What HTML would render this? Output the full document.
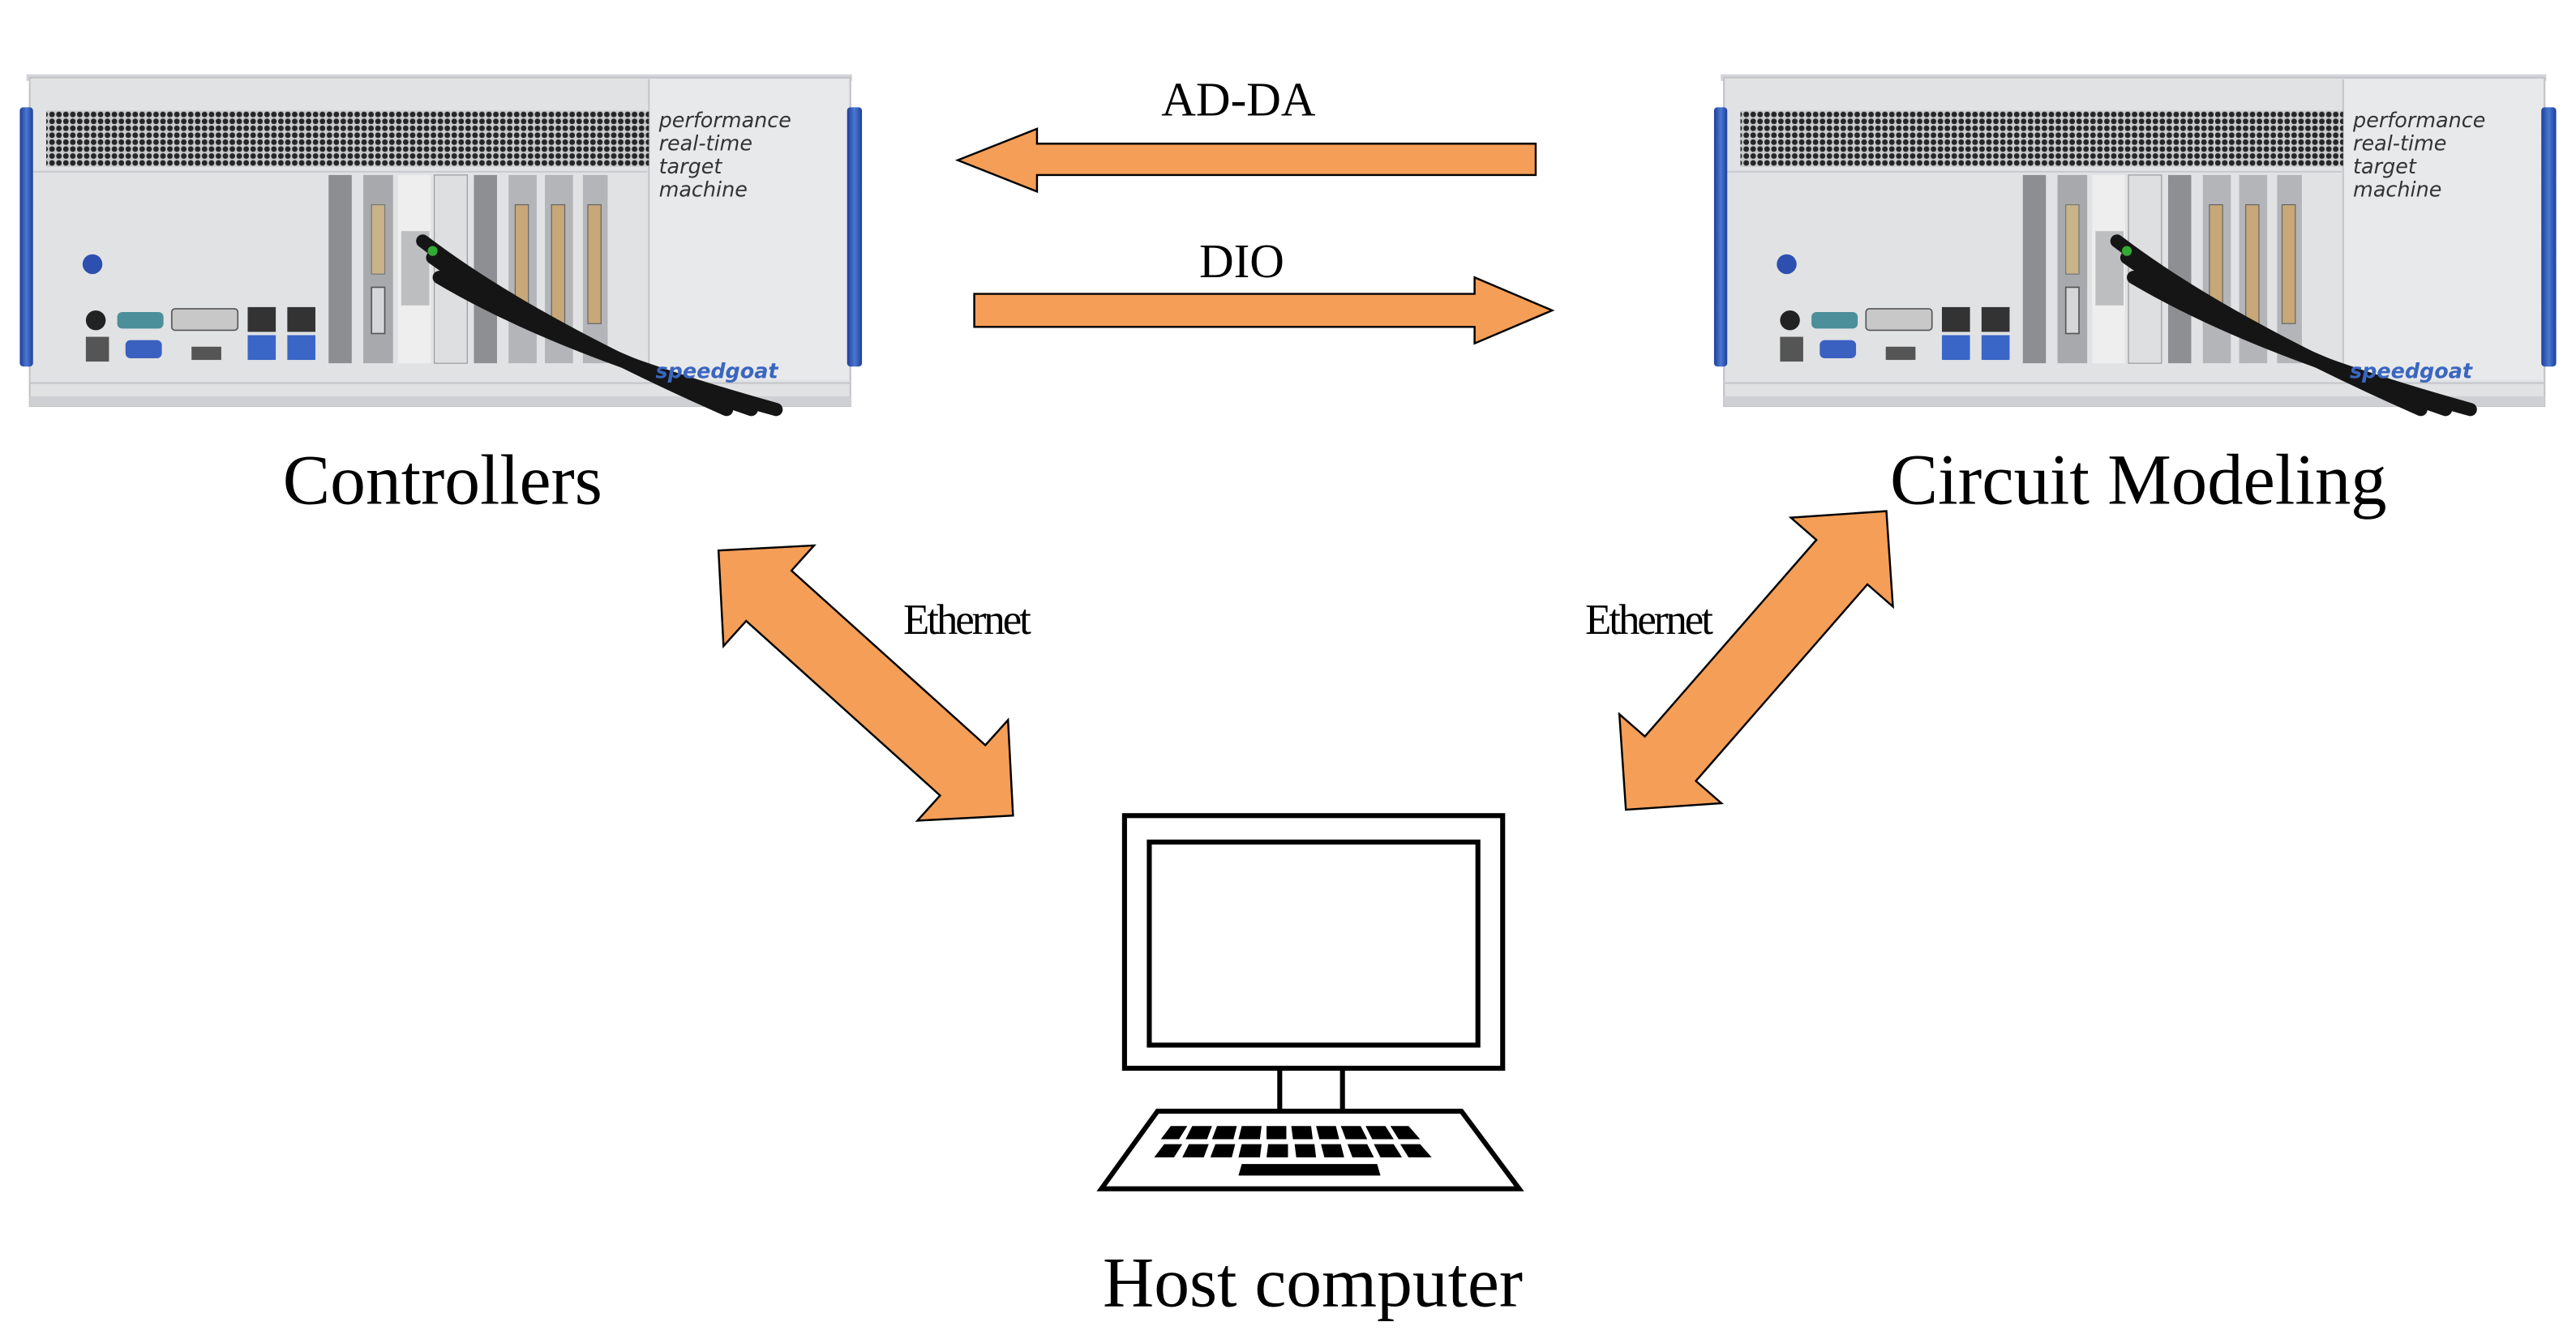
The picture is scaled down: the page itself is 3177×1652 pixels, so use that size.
<!DOCTYPE html>
<html><head><meta charset="utf-8"><style>
html,body{margin:0;padding:0;background:#fff;}
svg{display:block;}
</style></head><body>
<svg width="3177" height="1652" viewBox="0 0 1560 811" preserveAspectRatio="none" xmlns="http://www.w3.org/2000/svg">
<defs>
<pattern id="dots" width="4.2" height="4.2" patternUnits="userSpaceOnUse">
<rect width="4.2" height="4.2" fill="#c9cacc"/>
<circle cx="2.1" cy="2.1" r="1.7" fill="#262628"/>
</pattern>
<linearGradient id="blu" x1="0" x2="1"><stop offset="0" stop-color="#1e3f9a"/><stop offset="0.5" stop-color="#4a78d0"/><stop offset="1" stop-color="#1e3f9a"/></linearGradient>
<g id="machine">
<rect x="16" y="45" width="500" height="4" fill="#d4d5d8"/>
<rect x="18" y="47" width="497" height="199" fill="#e1e2e4" stroke="#c2c3c6" stroke-width="1"/>
<rect x="393" y="48" width="121" height="182" fill="#e8e9eb"/>
<line x1="393" y1="48" x2="393" y2="230" stroke="#c4c5c8" stroke-width="1"/>
<rect x="28" y="67" width="365" height="34" fill="url(#dots)"/>
<line x1="20" y1="104" x2="392" y2="104" stroke="#c9cacd" stroke-width="1"/>
<rect x="12" y="65" width="8" height="157" rx="2" fill="url(#blu)"/>
<rect x="513" y="65" width="9" height="157" rx="2" fill="url(#blu)"/>
<!-- slots -->
<rect x="199" y="106" width="14" height="114" fill="#8d8e91"/>
<rect x="220" y="106" width="18" height="114" fill="#a8a9ac"/>
<rect x="225" y="124" width="8" height="42" fill="#c9b48a" stroke="#777" stroke-width="0.6"/>
<rect x="225" y="174" width="8" height="28" fill="#d5d6d8" stroke="#555" stroke-width="0.8"/>
<rect x="241" y="106" width="20" height="114" fill="#eeeeef"/>
<rect x="243" y="140" width="17" height="45" fill="#bdbec0"/>
<rect x="263" y="106" width="20" height="114" fill="#dedfe1" stroke="#9a9b9e" stroke-width="0.6"/>
<rect x="287" y="106" width="14" height="114" fill="#8e8f92"/>
<rect x="308" y="106" width="17" height="114" fill="#b4b5b8"/>
<rect x="312" y="124" width="8" height="72" fill="#c8a878" stroke="#666" stroke-width="0.6"/>
<rect x="330" y="106" width="17" height="114" fill="#b4b5b8"/>
<rect x="334" y="124" width="8" height="72" fill="#c8a878" stroke="#666" stroke-width="0.6"/>
<rect x="353" y="106" width="15" height="114" fill="#b4b5b8"/>
<rect x="356" y="124" width="8" height="72" fill="#c8a878" stroke="#666" stroke-width="0.6"/>
<!-- ports -->
<circle cx="56" cy="160" r="6" fill="#2c4fb0"/>
<circle cx="58" cy="194" r="6" fill="#222"/>
<rect x="52" y="204" width="14" height="15" fill="#555"/>
<rect x="71" y="189" width="28" height="10" rx="3" fill="#4a8f9a"/>
<rect x="104" y="187" width="40" height="13" rx="2" fill="#c8c8c8" stroke="#555" stroke-width="0.8"/>
<rect x="76" y="206" width="22" height="11" rx="3" fill="#3a60c0"/>
<rect x="116" y="210" width="18" height="8" fill="#555"/>
<rect x="150" y="186" width="17" height="15" fill="#333"/>
<rect x="150" y="203" width="17" height="15" fill="#3a66c8"/>
<rect x="174" y="186" width="17" height="15" fill="#333"/>
<rect x="174" y="203" width="17" height="15" fill="#3a66c8"/>
<line x1="18" y1="232" x2="515" y2="232" stroke="#c4c5c8" stroke-width="1"/>
<rect x="18" y="240" width="497" height="6" fill="#cfd0d3"/>
<!-- cables -->
<g stroke="#151515" stroke-width="8" fill="none" stroke-linecap="round">
<path d="M256 146 Q320 195 440 248"/>
<path d="M262 156 Q330 205 455 248"/>
<path d="M266 168 Q340 212 470 248"/>
</g>
<circle cx="262" cy="152" r="3" fill="#3a3"/>
</g>
</defs>

<use href="#machine"/>
<use href="#machine" transform="translate(1026,0)"/>

<g font-family="'DejaVu Sans','Liberation Sans',sans-serif" font-style="italic" font-size="12.5" fill="#333">
<text x="399" y="77">performance</text>
<text x="399" y="91">real-time</text>
<text x="399" y="105">target</text>
<text x="399" y="119">machine</text>
<text x="1425" y="77">performance</text>
<text x="1425" y="91">real-time</text>
<text x="1425" y="105">target</text>
<text x="1425" y="119">machine</text>
</g>
<g font-family="'DejaVu Sans','Liberation Sans',sans-serif" font-style="italic" font-weight="bold" font-size="12.5" fill="#3a66c0">
<text x="397" y="229">speedgoat</text>
<text x="1423" y="229">speedgoat</text>
</g>

<!-- arrows -->
<g fill="#f49e57" stroke="#000" stroke-width="1.2" stroke-linejoin="miter">
<polygon points="580,97 628,78 628,87 930,87 930,106 628,106 628,116"/>
<polygon points="940,188 893,168 893,178 590,178 590,198 893,198 893,208"/>
<polygon transform="translate(524.3,413.7) rotate(42)" points="-120,0 -79,-41 -79,-20.5 79,-20.5 79,-41 120,0 79,41 79,20.5 -79,20.5 -79,41"/>
<polygon transform="translate(1063.5,400) rotate(131.1)" points="-120,0 -79,-41 -79,-20.5 79,-20.5 79,-41 120,0 79,41 79,20.5 -79,20.5 -79,41"/>
</g>

<g font-family="'Liberation Serif',serif" fill="#000">
<text x="750" y="70" font-size="29" text-anchor="middle">AD-DA</text>
<text x="752" y="168" font-size="29" text-anchor="middle">DIO</text>
<text x="585" y="384" font-size="26" text-anchor="middle" letter-spacing="-1.5">Ethernet</text>
<text x="998" y="384" font-size="26" text-anchor="middle" letter-spacing="-1.5">Ethernet</text>
<text x="268" y="305" font-size="43" text-anchor="middle">Controllers</text>
<text x="1295" y="305" font-size="43.5" text-anchor="middle">Circuit Modeling</text>
<text x="795" y="791" font-size="43" text-anchor="middle">Host computer</text>
</g>

<!-- computer -->
<g fill="none" stroke="#000" stroke-width="3">
<rect x="681" y="494" width="229" height="153"/>
<rect x="696" y="510" width="199" height="123"/>
<line x1="775" y1="647" x2="775" y2="673"/>
<line x1="813" y1="647" x2="813" y2="673"/>
<polygon points="701,673 885,673 920,720 667,720"/>
</g>
<g fill="#000">
<polygon points="709,682 719,682 714,690 703,690"/>
<polygon points="722,682 734,682 731,690 718,690"/>
<polygon points="737,682 749,682 747,690 734,690"/>
<polygon points="752,682 764,682 763,690 750,690"/>
<polygon points="767,682 779,682 779,690 767,690"/>
<polygon points="782,682 794,682 795,690 783,690"/>
<polygon points="797,682 809,682 811,690 799,690"/>
<polygon points="812,682 824,682 828,690 815,690"/>
<polygon points="827,682 839,682 844,690 831,690"/>
<polygon points="842,682 853,682 860,690 847,690"/>
<polygon points="705,693 716,693 711,701 699,701"/>
<polygon points="720,693 732,693 729,701 716,701"/>
<polygon points="736,693 748,693 746,701 733,701"/>
<polygon points="752,693 764,693 763,701 750,701"/>
<polygon points="768,693 780,693 780,701 767,701"/>
<polygon points="784,693 796,693 797,701 785,701"/>
<polygon points="800,693 812,693 814,701 802,701"/>
<polygon points="816,693 828,693 832,701 819,701"/>
<polygon points="832,693 844,693 849,701 836,701"/>
<polygon points="848,693 860,693 867,701 853,701"/>
<polygon points="752,705 834,705 836,712 750,712"/>
</g>
</svg>
</body></html>
